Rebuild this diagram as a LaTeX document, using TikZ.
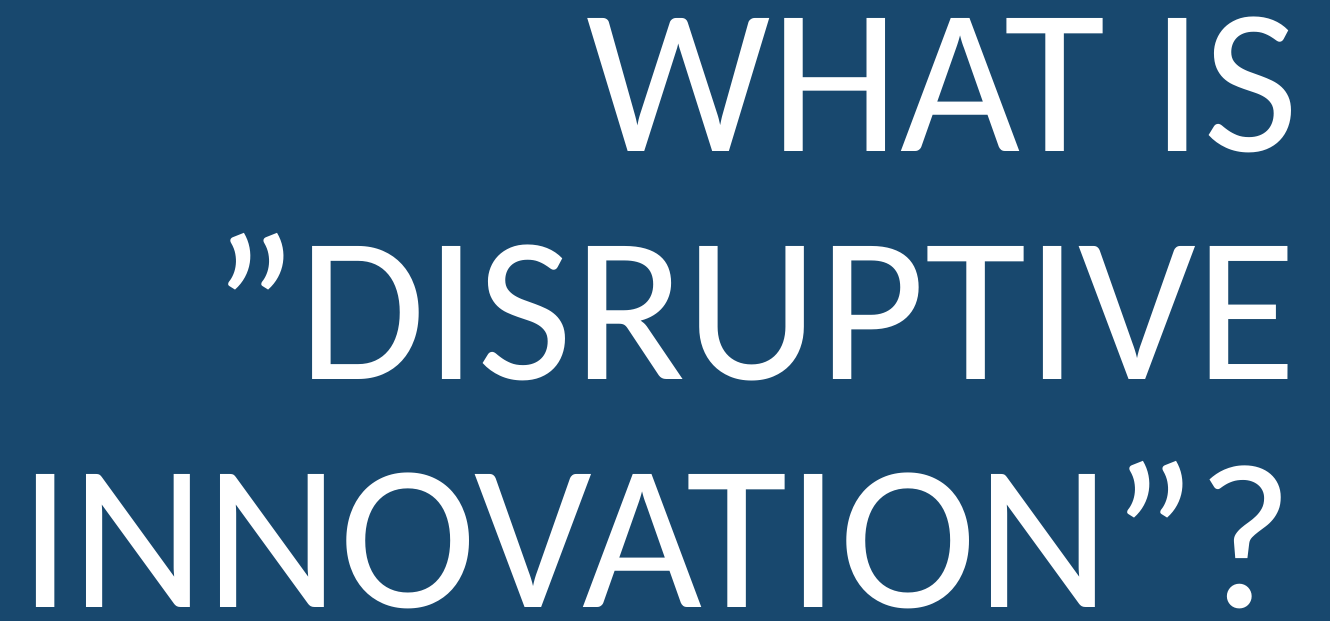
\documentclass[tikz,border=0pt]{standalone}
\usepackage{fontspec}
\setmainfont{Carlito}
\definecolor{slideblue}{RGB}{24,72,110}
\tikzstyle{headline} = [text=white, font=\fontsize{59}{65}\selectfont, inner sep=0pt, anchor=base east]

\begin{document}
\begin{tikzpicture}

% ----- background
\fill[slideblue] (0,0) rectangle (13.30,6.21);
\useasboundingbox (0,0) rectangle (13.30,6.21);

% ----- title lines
\node(line1)[headline] at (13.00,4.69) {WHAT IS};
\node(line2)[headline] at (12.98,2.41) {”DISRUPTIVE};
\node(line3)[headline] at (12.94,0.13) {INNOVATION”?};

\end{tikzpicture}
\end{document}
